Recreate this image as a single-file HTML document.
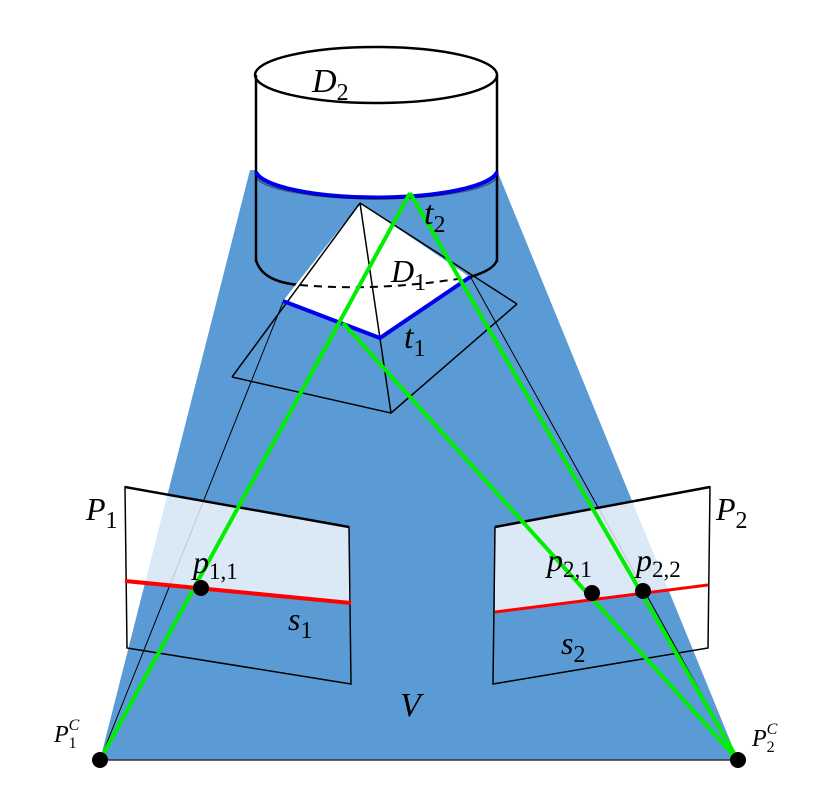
<!DOCTYPE html>
<html><head><meta charset="utf-8"><style>
html,body{margin:0;padding:0;background:#fff;}
svg text{font-family:"Liberation Serif",serif;font-style:italic;fill:#000;}
</style></head><body>
<svg width="834" height="792" viewBox="0 0 834 792" xmlns="http://www.w3.org/2000/svg">
<polygon points="250,170 496,168 738,760 100,760" fill="#5b9bd5"/>
<line x1="100" y1="760" x2="738" y2="760" stroke="#333" stroke-width="1.5"/>
<path d="M256,75 L256,172 A121,28 0 0 0 497,172 L497,75 Z" fill="#fff"/>
<ellipse cx="376" cy="75" rx="121" ry="28" fill="#fff" stroke="#000" stroke-width="2.5"/>
<line x1="256" y1="75" x2="256" y2="262" stroke="#000" stroke-width="2.5"/>
<line x1="497" y1="75" x2="497" y2="262" stroke="#000" stroke-width="2.5"/>
<path d="M256,172 A121,28 0 0 0 497,172" fill="none" stroke="#0000ee" stroke-width="4"/>
<path d="M256,177 A121,24 0 0 0 497,177" fill="none" stroke="#000" stroke-width="1.5" opacity="0.4"/>
<path d="M256,260 Q262,282 300,285" fill="none" stroke="#000" stroke-width="2.5"/>
<path d="M470,277 Q494,270 497,260" fill="none" stroke="#000" stroke-width="2.5"/>
<polygon points="360,203 283,301 380,338 470,277" fill="#fff"/>
<path d="M300,285 Q380,292 470,277" fill="none" stroke="#000" stroke-width="2" stroke-dasharray="8,6"/>
<line x1="360" y1="203" x2="232" y2="377" stroke="#000" stroke-width="1.5"/>
<line x1="360" y1="203" x2="517" y2="304" stroke="#000" stroke-width="1.5"/>
<line x1="360" y1="203" x2="391" y2="413" stroke="#000" stroke-width="1.5"/>
<polyline points="232,377 391,413 517,304" fill="none" stroke="#000" stroke-width="1.5"/>
<polyline points="283,301 380,338 470,277" fill="none" stroke="#0000ee" stroke-width="4"/>
<line x1="283" y1="302" x2="100" y2="760" stroke="#000" stroke-width="1"/>
<line x1="470" y1="276" x2="738" y2="760" stroke="#000" stroke-width="1"/>
<polygon points="125,487 349,527 351,603 125,581" fill="#fff" fill-opacity="0.78"/>
<polygon points="125,487 349,527 351,684 127,648" fill="none" stroke="#000" stroke-width="1.5"/>
<line x1="125" y1="487" x2="349" y2="527" stroke="#000" stroke-width="2.5"/>
<polygon points="495,527 710,487 708,585 495,612" fill="#fff" fill-opacity="0.78"/>
<polygon points="495,527 710,487 708,648 493,684" fill="none" stroke="#000" stroke-width="1.5"/>
<line x1="495" y1="527" x2="710" y2="487" stroke="#000" stroke-width="2.5"/>
<g stroke="#00ee00" stroke-width="4" fill="none">
<line x1="410" y1="193" x2="100" y2="760"/>
<line x1="410" y1="193" x2="738" y2="760"/>
<line x1="343" y1="323" x2="738" y2="760"/>
</g>
<line x1="125" y1="581" x2="351" y2="603" stroke="#ff0000" stroke-width="4"/>
<line x1="495" y1="612" x2="708" y2="585" stroke="#ff0000" stroke-width="3"/>
<circle cx="201" cy="588" r="8" fill="#000"/>
<circle cx="592" cy="593" r="8" fill="#000"/>
<circle cx="643" cy="591" r="8" fill="#000"/>
<circle cx="100" cy="760" r="8" fill="#000"/>
<circle cx="738" cy="760" r="8" fill="#000"/>
<text x="312" y="92" font-size="34">D<tspan font-size="24" dy="8" font-style="normal">2</tspan></text>
<text x="424" y="224" font-size="34">t<tspan font-size="24" dy="8" font-style="normal">2</tspan></text>
<text x="391" y="282" font-size="32">D<tspan font-size="24" dy="8" font-style="normal">1</tspan></text>
<text x="404" y="348" font-size="34">t<tspan font-size="24" dy="8" font-style="normal">1</tspan></text>
<text x="86" y="520" font-size="32">P<tspan font-size="24" dy="8" font-style="normal">1</tspan></text>
<text x="716" y="520" font-size="32">P<tspan font-size="24" dy="8" font-style="normal">2</tspan></text>
<text x="193" y="573" font-size="32">p<tspan font-size="23" dy="6" font-style="normal">1,1</tspan></text>
<text x="547" y="571" font-size="32">p<tspan font-size="23" dy="6" font-style="normal">2,1</tspan></text>
<text x="636" y="571" font-size="32">p<tspan font-size="23" dy="6" font-style="normal">2,2</tspan></text>
<text x="288" y="630" font-size="32">s<tspan font-size="24" dy="8" font-style="normal">1</tspan></text>
<text x="561" y="654" font-size="32">s<tspan font-size="24" dy="8" font-style="normal">2</tspan></text>
<text x="400" y="716" font-size="34">V</text>
<text x="54" y="742" font-size="24">P<tspan font-size="16" dy="6" font-style="normal">1</tspan><tspan font-size="16" dy="-18" dx="-8">C</tspan></text>
<text x="752" y="746" font-size="24">P<tspan font-size="16" dy="6" font-style="normal">2</tspan><tspan font-size="16" dy="-18" dx="-8">C</tspan></text>
</svg>
</body></html>
